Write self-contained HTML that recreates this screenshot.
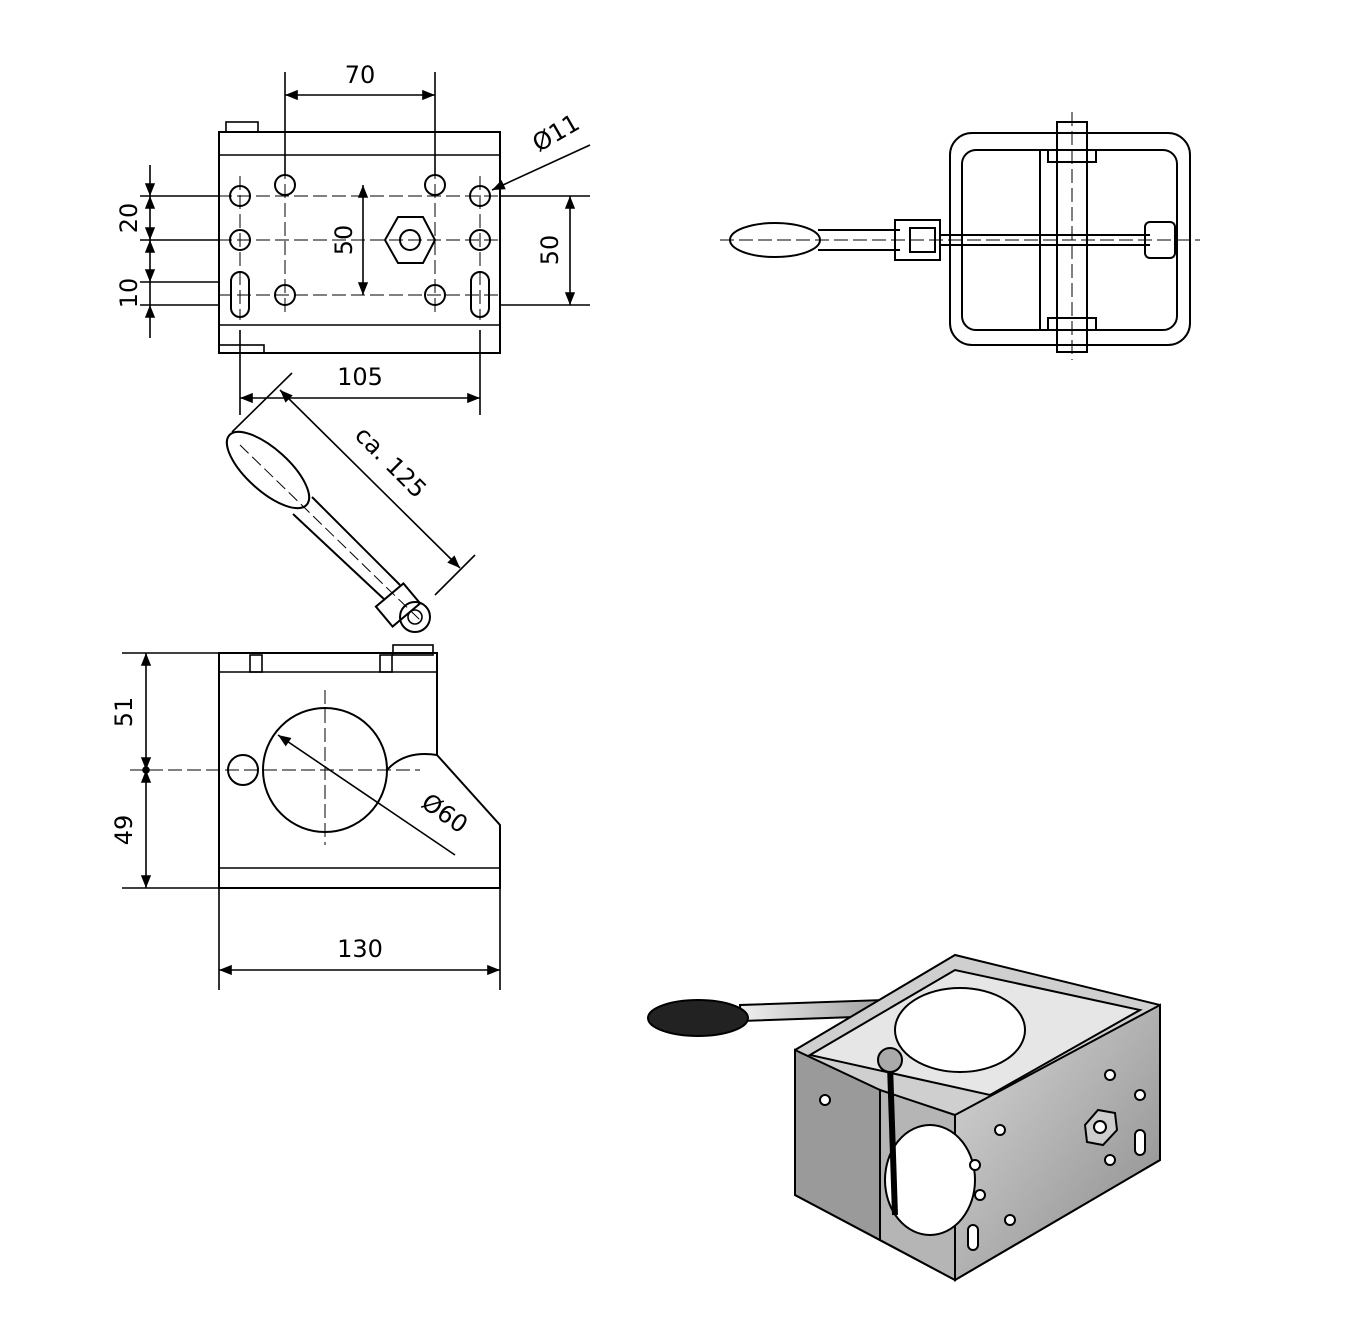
<!DOCTYPE html>
<html><head><meta charset="utf-8"><style>html,body{margin:0;padding:0;background:#fff}svg{display:block}</style></head>
<body>
<svg width="1357" height="1317" viewBox="0 0 1357 1317" xmlns="http://www.w3.org/2000/svg" font-family="'DejaVu Sans', 'Liberation Sans', sans-serif" font-size="24" fill="none" stroke="#000" stroke-width="1.6">
<defs>
<marker id="a" viewBox="0 0 10 10" refX="10" refY="5" markerWidth="12" markerHeight="8" orient="auto-start-reverse"><path d="M0,1 L10,5 L0,9 z" fill="#000" stroke="none"/></marker>
<linearGradient id="g1" x1="0" y1="0" x2="1" y2="1"><stop offset="0" stop-color="#d8d8d8"/><stop offset="1" stop-color="#8a8a8a"/></linearGradient>
<linearGradient id="g2" x1="0" y1="0" x2="1" y2="0"><stop offset="0" stop-color="#f0f0f0"/><stop offset="1" stop-color="#a0a0a0"/></linearGradient>
</defs>

<!-- TOP LEFT VIEW -->
<rect x="226" y="122" width="32" height="10"/>
<rect x="219" y="132" width="281" height="221" stroke-width="2"/>
<line x1="219" y1="155" x2="500" y2="155"/>
<line x1="219" y1="325" x2="500" y2="325"/>
<rect x="219" y="345" width="45" height="8"/>
<g stroke-width="2">
<circle cx="240" cy="196" r="10"/><circle cx="240" cy="240" r="10"/>
<rect x="231" y="272" width="18" height="45" rx="9"/>
<circle cx="285" cy="185" r="10"/><circle cx="285" cy="295" r="10"/>
<circle cx="435" cy="185" r="10"/><circle cx="435" cy="295" r="10"/>
<circle cx="480" cy="196" r="10"/><circle cx="480" cy="240" r="10"/>
<rect x="471" y="272" width="18" height="45" rx="9"/>
<polygon points="385,240 398,217 423,217 435,240 423,263 398,263"/>
<circle cx="410" cy="240" r="10"/>
</g>
<g stroke-dasharray="14,5" stroke-width="1">
<line x1="218" y1="196" x2="500" y2="196"/><line x1="218" y1="240" x2="500" y2="240"/><line x1="218" y1="295" x2="500" y2="295"/>
<line x1="285" y1="165" x2="285" y2="315"/><line x1="435" y1="165" x2="435" y2="315"/>
<line x1="240" y1="176" x2="240" y2="320"/><line x1="480" y1="176" x2="480" y2="320"/>
</g>
<line x1="285" y1="72" x2="285" y2="175"/><line x1="435" y1="72" x2="435" y2="175"/>
<line x1="285" y1="95" x2="435" y2="95" marker-start="url(#a)" marker-end="url(#a)"/>
<text x="360" y="83" fill="#000" stroke="none" text-anchor="middle">70</text>
<line x1="590" y1="145" x2="492" y2="190" marker-end="url(#a)"/>
<text x="560" y="140" fill="#000" stroke="none" text-anchor="middle" transform="rotate(-30 560 140)">Ø11</text>
<line x1="140" y1="196" x2="218" y2="196"/><line x1="140" y1="240" x2="218" y2="240"/><line x1="140" y1="282" x2="218" y2="282"/><line x1="140" y1="305" x2="218" y2="305"/>
<line x1="150" y1="165" x2="150" y2="196" marker-end="url(#a)"/>
<line x1="150" y1="196" x2="150" y2="240" marker-start="url(#a)" marker-end="url(#a)"/>
<line x1="150" y1="240" x2="150" y2="282" marker-start="url(#a)" marker-end="url(#a)"/>
<line x1="150" y1="305" x2="150" y2="338" marker-start="url(#a)"/>
<line x1="150" y1="282" x2="150" y2="305"/>
<text x="137" y="218" fill="#000" stroke="none" text-anchor="middle" transform="rotate(-90 137 218)">20</text>
<text x="137" y="293" fill="#000" stroke="none" text-anchor="middle" transform="rotate(-90 137 293)">10</text>
<line x1="363" y1="185" x2="363" y2="295" marker-start="url(#a)" marker-end="url(#a)"/>
<text x="352" y="240" fill="#000" stroke="none" text-anchor="middle" transform="rotate(-90 352 240)">50</text>
<line x1="500" y1="196" x2="590" y2="196"/><line x1="500" y1="305" x2="590" y2="305"/>
<line x1="570" y1="196" x2="570" y2="305" marker-start="url(#a)" marker-end="url(#a)"/>
<text x="558" y="250" fill="#000" stroke="none" text-anchor="middle" transform="rotate(-90 558 250)">50</text>
<line x1="240" y1="330" x2="240" y2="415"/><line x1="480" y1="330" x2="480" y2="415"/>
<line x1="240" y1="398" x2="480" y2="398" marker-start="url(#a)" marker-end="url(#a)"/>
<text x="360" y="385" fill="#000" stroke="none" text-anchor="middle">105</text>

<!-- HANDLE SIDE -->
<line x1="232" y1="432" x2="292" y2="373"/><line x1="435" y1="595" x2="475" y2="555"/>
<line x1="280" y1="390" x2="460" y2="568" marker-start="url(#a)" marker-end="url(#a)"/>
<text x="385" y="468" fill="#000" stroke="none" text-anchor="middle" transform="rotate(45 385 468)">ca. 125</text>
<ellipse cx="268" cy="470" rx="52" ry="21" transform="rotate(42 268 470)" stroke-width="2"/>
<line x1="293" y1="514" x2="385" y2="600" stroke-width="2"/>
<line x1="312" y1="497" x2="400" y2="585" stroke-width="2"/>
<rect x="380" y="592" width="36" height="26" transform="rotate(-40 398 605)" stroke-width="2"/>
<circle cx="415" cy="617" r="15" stroke-width="2"/><circle cx="415" cy="617" r="7"/>
<line x1="240" y1="445" x2="420" y2="620" stroke-dasharray="12,5" stroke-width="1"/>
<rect x="393" y="645" width="40" height="10"/>

<!-- SIDE VIEW -->
<path d="M219,653 H437 V755 L500,825 V888 H219 Z" stroke-width="2"/>
<line x1="219" y1="868" x2="500" y2="868"/>
<line x1="219" y1="672" x2="437" y2="672"/>
<rect x="250" y="655" width="12" height="17"/><rect x="380" y="655" width="12" height="17"/>
<circle cx="325" cy="770" r="62" stroke-width="2"/>
<path d="M387,770 Q405,750 437,755" stroke-width="2"/>
<circle cx="243" cy="770" r="15" stroke-width="2"/>
<line x1="130" y1="770" x2="420" y2="770" stroke-dasharray="14,5" stroke-width="1"/>
<line x1="325" y1="690" x2="325" y2="845" stroke-dasharray="14,5" stroke-width="1"/>
<line x1="278" y1="735" x2="455" y2="855" marker-start="url(#a)"/>
<text x="440" y="820" fill="#000" stroke="none" text-anchor="middle" transform="rotate(35 440 820)">Ø60</text>
<line x1="122" y1="653" x2="219" y2="653"/><line x1="122" y1="888" x2="219" y2="888"/>
<line x1="146" y1="653" x2="146" y2="770" marker-start="url(#a)" marker-end="url(#a)"/>
<line x1="146" y1="770" x2="146" y2="888" marker-start="url(#a)" marker-end="url(#a)"/>
<circle cx="146" cy="770" r="3" fill="#000"/>
<text x="132" y="712" fill="#000" stroke="none" text-anchor="middle" transform="rotate(-90 132 712)">51</text>
<text x="132" y="830" fill="#000" stroke="none" text-anchor="middle" transform="rotate(-90 132 830)">49</text>
<line x1="219" y1="888" x2="219" y2="990"/><line x1="500" y1="888" x2="500" y2="990"/>
<line x1="219" y1="970" x2="500" y2="970" marker-start="url(#a)" marker-end="url(#a)"/>
<text x="360" y="957" fill="#000" stroke="none" text-anchor="middle">130</text>

<!-- TOP RIGHT VIEW -->
<g stroke-width="2">
<ellipse cx="775" cy="240" rx="45" ry="17"/>
<path d="M818,230 H900 M818,250 H900"/>
<rect x="895" y="220" width="45" height="40"/>
<rect x="910" y="228" width="25" height="24"/>
<rect x="950" y="133" width="240" height="212" rx="22"/>
<rect x="962" y="150" width="215" height="180" rx="14"/>
<rect x="1057" y="122" width="30" height="230"/>
<rect x="1048" y="150" width="48" height="12"/><rect x="1048" y="318" width="48" height="12"/>
<line x1="1040" y1="150" x2="1040" y2="330"/>
<line x1="940" y1="235" x2="1150" y2="235"/><line x1="940" y1="245" x2="1150" y2="245"/>
<rect x="1145" y="222" width="30" height="36" rx="5"/>
</g>
<line x1="720" y1="240" x2="1200" y2="240" stroke-dasharray="14,5" stroke-width="1"/>
<line x1="1072" y1="112" x2="1072" y2="360" stroke-dasharray="14,5" stroke-width="1"/>

<!-- 3D VIEW -->
<g stroke-width="2">
<rect x="740" y="1005" width="140" height="16" fill="url(#g2)" transform="rotate(-2 740 1005)"/>
<ellipse cx="698" cy="1018" rx="50" ry="18" fill="#222"/>
<polygon points="795,1050 955,955 1160,1005 1160,1160 955,1280 795,1195" fill="#cfcfcf"/>
<polygon points="795,1050 880,1090 880,1240 795,1195" fill="#9a9a9a"/>
<polygon points="955,1115 1160,1005 1160,1160 955,1280" fill="url(#g1)"/>
<polygon points="880,1090 955,1115 955,1280 880,1240" fill="#b5b5b5"/>
<polygon points="810,1055 955,970 1140,1010 990,1095" fill="#e6e6e6"/>
<ellipse cx="960" cy="1030" rx="65" ry="42" fill="#fff"/>
<ellipse cx="930" cy="1180" rx="45" ry="55" fill="#fff"/>
<line x1="890" y1="1065" x2="895" y2="1215" stroke-width="6"/>
<circle cx="890" cy="1060" r="12" fill="#aaa"/>
<polygon points="1085,1125 1098,1110 1115,1113 1117,1130 1103,1145 1087,1142" fill="#ccc"/>
<circle cx="1100" cy="1127" r="6" fill="#fff"/>
<g fill="#fff"><circle cx="1110" cy="1075" r="5"/><circle cx="1140" cy="1095" r="5"/><circle cx="1000" cy="1130" r="5"/><circle cx="975" cy="1165" r="5"/><circle cx="980" cy="1195" r="5"/><circle cx="1010" cy="1220" r="5"/><circle cx="1110" cy="1160" r="5"/><circle cx="825" cy="1100" r="5"/>
<rect x="1135" y="1130" width="10" height="25" rx="5"/><rect x="968" y="1225" width="10" height="25" rx="5"/></g>
</g>
</svg>
</body></html>
